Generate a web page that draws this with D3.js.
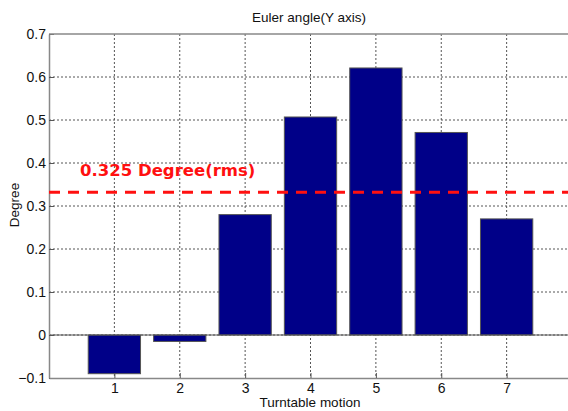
<!DOCTYPE html>
<html>
<head>
<meta charset="utf-8">
<script src="https://cdn.jsdelivr.net/npm/d3@7"></script>
<style>
  body { margin: 0; background: #fff; }
  svg { display: block; font-family: "Liberation Sans", Arial, sans-serif; }
</style>
</head>
<body>
<div id="chart"></div>
<script>
// data
var motions = [1, 2, 3, 4, 5, 6, 7];
var degrees = [-0.09, -0.015, 0.28, 0.507, 0.621, 0.471, 0.27];
var yTicks = [-0.1, 0, 0.1, 0.2, 0.3, 0.4, 0.5, 0.6, 0.7];
var rmsValue = 0.332;
var rmsLabel = "0.325 Degree(rms)";

var W = 568, H = 411;
var plotL = 49, plotT = 34, plotR = 572, plotB = 378;

var svg = d3.select("#chart").append("svg")
    .attr("width", W)
    .attr("height", H);

var x = d3.scaleLinear().domain([0, 8]).range([plotL, plotR]);
var y = d3.scaleLinear().domain([-0.1, 0.7]).range([plotB, plotT]);

// grid
var grid = svg.append("g").attr("class", "grid");
grid.selectAll("line.gx")
    .data(motions)
    .enter().append("line")
    .attr("x1", function(d){ return x(d); })
    .attr("x2", function(d){ return x(d); })
    .attr("y1", plotT)
    .attr("y2", plotB)
    .attr("stroke", "#555")
    .attr("stroke-dasharray", "2,2");
grid.selectAll("line.gy")
    .data(yTicks.slice(1, -1))
    .enter().append("line")
    .attr("x1", plotL)
    .attr("x2", plotR)
    .attr("y1", function(d){ return y(d); })
    .attr("y2", function(d){ return y(d); })
    .attr("stroke", "#555")
    .attr("stroke-dasharray", "2,2");

// bars
var bw = (x(1) - x(0)) * 0.8;
svg.append("g").selectAll("rect")
    .data(motions)
    .enter().append("rect")
    .attr("x", function(d){ return x(d) - bw / 2; })
    .attr("width", bw)
    .attr("y", function(d, i){ return y(Math.max(0, degrees[i])); })
    .attr("height", function(d, i){ return Math.abs(y(degrees[i]) - y(0)); })
    .attr("fill", "#000088")
    .attr("stroke", "#555")
    .attr("stroke-width", 1);

// zero baseline
svg.append("line")
    .attr("x1", plotL).attr("x2", plotR)
    .attr("y1", y(0)).attr("y2", y(0))
    .attr("stroke", "#555");

// axes
var yAxis = d3.axisLeft(y).tickValues(yTicks).tickSizeInner(-5).tickSizeOuter(0)
    .tickFormat(function(d){ return d === 0 ? "0" : d3.format(".1f")(d); });
var gy = svg.append("g").attr("transform", "translate(" + plotL + ",0)").call(yAxis);

var xAxis = d3.axisBottom(x).tickValues(motions).tickSizeInner(-5).tickSizeOuter(0)
    .tickFormat(d3.format("d"));
var gx = svg.append("g").attr("transform", "translate(0," + plotB + ")").call(xAxis);

[gx, gy].forEach(function(g){
    g.select(".domain").attr("stroke", "#888").attr("stroke-width", 1.5);
    g.selectAll(".tick line").attr("stroke", "#555");
    g.selectAll(".tick text").attr("fill", "#111").style("font-size", "14px")
        .style("font-family", "'Liberation Sans', Arial, sans-serif");
});
gy.selectAll(".tick text").attr("x", -3);
gx.selectAll(".tick text").attr("y", 5);

// top border
svg.append("line")
    .attr("x1", plotL).attr("x2", plotR)
    .attr("y1", plotT).attr("y2", plotT)
    .attr("stroke", "#888").attr("stroke-width", 1.5);

// rms line
svg.append("line")
    .attr("x1", plotL).attr("x2", plotR)
    .attr("y1", y(rmsValue)).attr("y2", y(rmsValue))
    .attr("stroke", "#ff1010")
    .attr("stroke-width", 3)
    .attr("stroke-dasharray", "11,8");

svg.append("text")
    .attr("x", 80)
    .attr("y", 176)
    .attr("fill", "#ff1010")
    .style("font-family", "'DejaVu Sans', sans-serif")
    .style("font-weight", "bold")
    .style("font-size", "16.5px")
    .text(rmsLabel);

// titles
svg.append("text")
    .attr("x", 309).attr("y", 22)
    .attr("text-anchor", "middle")
    .style("font-size", "13.5px")
    .attr("fill", "#111")
    .text("Euler angle(Y axis)");

svg.append("text")
    .attr("x", 310).attr("y", 407)
    .attr("text-anchor", "middle")
    .style("font-size", "13.5px")
    .attr("fill", "#111")
    .text("Turntable motion");

svg.append("text")
    .attr("transform", "translate(19,205) rotate(-90)")
    .attr("text-anchor", "middle")
    .style("font-size", "13.5px")
    .attr("fill", "#111")
    .text("Degree");
</script>
</body>
</html>
